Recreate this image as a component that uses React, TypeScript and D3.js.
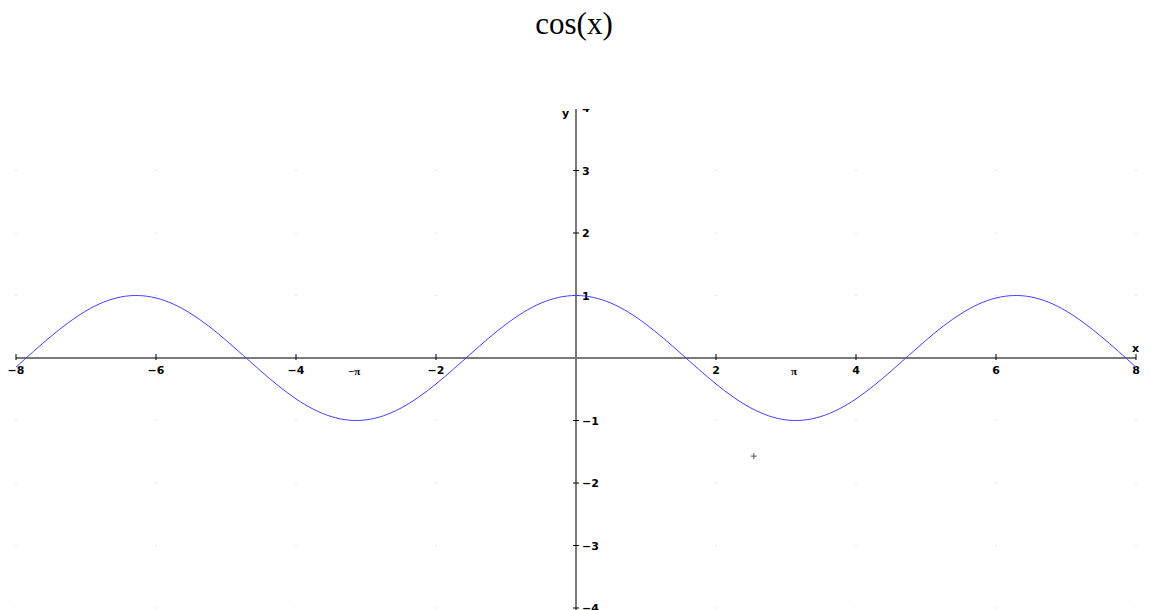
import { useMemo } from "react";
import * as d3 from "d3";

// samples of the curve, every half unit
const curveX = [
  -8, -7.5, -7, -6.5, -6, -5.5, -5, -4.5, -4, -3.5, -3, -2.5, -2, -1.5, -1, -0.5,
  0, 0.5, 1, 1.5, 2, 2.5, 3, 3.5, 4, 4.5, 5, 5.5, 6, 6.5, 7, 7.5, 8,
];
const curveY = [
  -0.146, 0.347, 0.754, 0.977, 0.96, 0.709, 0.284, -0.211, -0.654, -0.936, -0.99, -0.801,
  -0.416, 0.071, 0.54, 0.878, 1, 0.878, 0.54, 0.071, -0.416, -0.801, -0.99, -0.936, -0.654,
  -0.211, 0.284, 0.709, 0.96, 0.977, 0.754, 0.347, -0.146,
];
const xTicks = [-8, -6, -4, -2, 2, 4, 6, 8];
const yTicks = [-4, -3, -2, -1, 1, 2, 3, 4];
const piTicks = [-Math.PI, Math.PI];
const piLabels = ["\u2212\u03c0", "\u03c0"];
const gridX = [-8, -6, -4, -2, 0, 2, 4, 6, 8];
const gridY = [-4, -3, -2, -1, 0, 1, 2, 3, 4];
const marker = { x: 2.54, y: -1.57 };

const W = 1151;
const H = 610;

export default function App() {
  const x = d3.scaleLinear().domain([-8, 8]).range([16, 1136]);
  const y = d3.scaleLinear().domain([-4, 4]).range([608, 108]);

  const path = useMemo(() => {
    const line = d3
      .line<number>()
      .x((_, i) => x(curveX[i]))
      .y((d) => y(d))
      .curve(d3.curveNatural);
    return line(curveY) ?? "";
  }, []);

  const x0 = x(0);
  const y0 = y(0);
  const lab = { fontFamily: "'DejaVu Sans', sans-serif", fontSize: 11, fontWeight: 700 };
  const fmt = (v: number) => (v < 0 ? "\u2212" + Math.abs(v) : String(v));

  return (
    <svg
      width={W}
      height={H}
      style={{ position: "absolute", left: 0, top: 0, display: "block", background: "#fff" }}
    >
      <defs>
        <clipPath id="plot">
          <rect x={0} y={109} width={W} height={H - 109} />
        </clipPath>
      </defs>
      <text
        x={574}
        y={34}
        textAnchor="middle"
        style={{ fontFamily: "'Liberation Serif', 'Times New Roman', serif", fontSize: 31 }}
      >
        cos(x)
      </text>

      <g clipPath="url(#plot)">
        {gridX.map((gx) =>
          gridY.map((gy) => (
            <rect key={gx + "_" + gy} x={x(gx) - 0.5} y={y(gy) - 0.5} width={1} height={1} fill="#c8c8c8" />
          ))
        )}

        <line x1={x(-8)} x2={x(8)} y1={y0} y2={y0} stroke="#7a7a7a" strokeWidth={2} />
        <line x1={x0} x2={x0} y1={y(4) + 1} y2={H} stroke="#7a7a7a" strokeWidth={2} />

        {xTicks.map((t) => (
          <g key={"xt" + t}>
            <line x1={x(t)} x2={x(t)} y1={y0 - 4} y2={y0 + 2} stroke="#000" strokeWidth={1} />
            <text x={x(t)} y={y0 + 16} textAnchor="middle" style={lab}>
              {fmt(t)}
            </text>
          </g>
        ))}
        {piTicks.map((t, i) => (
          <text
            key={"pi" + i}
            x={x(t) - 2}
            y={y0 + 17}
            textAnchor="middle"
            style={{ fontFamily: "'Liberation Serif', serif", fontSize: 11, fontWeight: 700 }}
          >
            {piLabels[i]}
          </text>
        ))}

        {yTicks.map((t) => (
          <g key={"yt" + t}>
            <line x1={x0 - 3} x2={x0 + 3} y1={y(t)} y2={y(t)} stroke="#000" strokeWidth={1} />
            <text x={x0 + 6} y={y(t) + 4} style={lab}>
              {fmt(t)}
            </text>
          </g>
        ))}

        <text x={x0 - 14} y={y(4) + 9} style={lab}>
          y
        </text>
        <text x={x(8) - 4} y={y0 - 6} style={lab}>
          x
        </text>

        <path d={path} fill="none" stroke="#4040ff" strokeWidth={1} />

        <g stroke="#555" strokeWidth={1}>
          <line x1={x(marker.x) - 3} x2={x(marker.x) + 3} y1={y(marker.y)} y2={y(marker.y)} />
          <line x1={x(marker.x)} x2={x(marker.x)} y1={y(marker.y) - 3} y2={y(marker.y) + 3} />
        </g>
      </g>
    </svg>
  );
}
